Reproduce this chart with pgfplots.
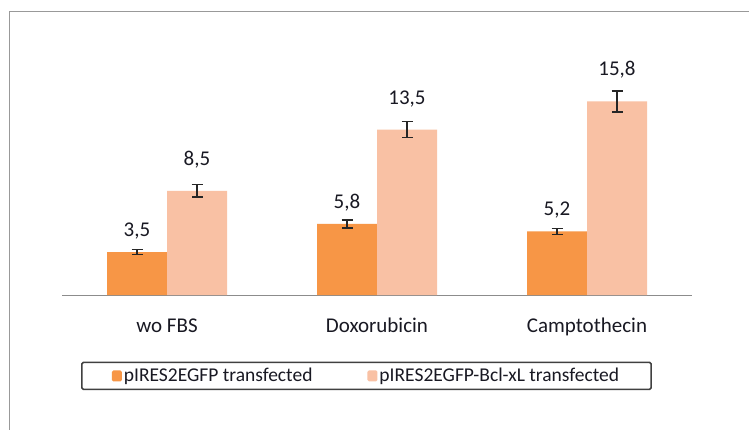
\documentclass[border=0pt]{standalone}
\usepackage{pgfplots}
\pgfplotsset{compat=1.18}
\usepackage{pgfplotstable}
\usepackage{fontspec}
\setmainfont{Carlito}
\definecolor{barA}{RGB}{247,150,70}
\definecolor{barB}{RGB}{249,193,164}
\definecolor{txt}{RGB}{25,25,35}

\pgfplotstableread{
x y err lab
0 3.5 0.20 3,5
1 5.8 0.33 5,8
2 5.2 0.25 5,2
}\tA
\pgfplotstableread{
x y err lab
0 8.5 0.50 8,5
1 13.5 0.65 13,5
2 15.8 0.86 15,8
}\tB

\begin{document}
\begin{tikzpicture}[x=1pt,y=1pt]
\useasboundingbox (0,0) rectangle (749,429);
\fill[white] (0,0) rectangle (749,429);
\draw[black!40, line width=1.6pt] (9.5,-5) -- (9.5,417.5) -- (760,417.5);
\begin{axis}[
  at={(62pt,134pt)}, anchor=south west,
  scale only axis, width=630pt, height=220.5pt,
  xmin=-0.5, xmax=2.5, ymin=0, ymax=18,
  ybar=0pt, bar width=60pt,
  axis x line*=bottom, axis y line=none,
  x axis line style={black!45, line width=1pt, -},
  xtick={0,1,2}, xticklabels={wo FBS, Doxorubicin, Camptothecin},
  ytick=\empty,
  major tick length=0pt,
  xticklabel style={anchor=base, yshift=-37pt, font=\fontsize{21}{25}\selectfont, text=txt},
  clip=false,
  nodes near coords, point meta=explicit symbolic,
  nodes near coords style={anchor=base, font=\fontsize{21}{25}\selectfont, text=txt},
  legend style={at={(0.4833,-0.367)}, anchor=center, legend columns=2,
    draw=black!75, line width=1.6pt, rounded corners=1.5pt,
    font=\fontsize{19.5}{22}\selectfont, text=txt,
    inner xsep=30pt, inner ysep=4pt,
    /tikz/every even column/.append style={column sep=53pt}},
  legend image code/.code={\fill[#1, draw=none] (0pt,-5.5pt) rectangle (10pt,5.5pt);},
]
\addplot[fill=barA, draw=none,
  every node near coord/.append style={yshift=15.5pt},
  error bars/.cd, y dir=both, y explicit,
  error bar style={line width=1.2pt, black!85},
  error mark options={rotate=90, mark size=5.5pt, line width=1.2pt, black!85}]
  table[x=x, y=y, y error=err, meta=lab] {\tA};
\addplot[fill=barB, draw=none,
  every node near coord/.append style={yshift=25.5pt},
  error bars/.cd, y dir=both, y explicit,
  error bar style={line width=1.2pt, black!85},
  error mark options={rotate=90, mark size=5.5pt, line width=1.2pt, black!85}]
  table[x=x, y=y, y error=err, meta=lab] {\tB};
\legend{pIRES2EGFP transfected, pIRES2EGFP-Bcl-xL transfected}
\end{axis}
\end{tikzpicture}
\end{document}
